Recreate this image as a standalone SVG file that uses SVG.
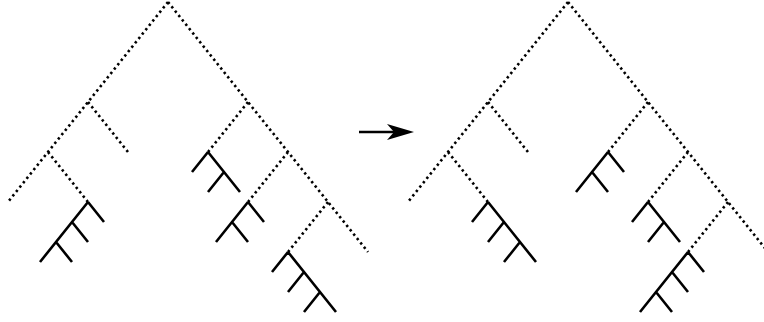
<svg xmlns="http://www.w3.org/2000/svg" width="764" height="322" viewBox="0 0 764 322">
<style>
.dot{fill:none;stroke:#000;stroke-width:2.6;stroke-dasharray:2.4 3.2}
.sol{fill:none;stroke:#000;stroke-width:2.6;stroke-linecap:butt;stroke-linejoin:miter}
</style>
<rect width="764" height="322" fill="#fff"/>
<g id="connectors">
  <path class="dot" d="M168,2 L8,202 M88,102 L128,152 M48,152 L88,202 M168,2 L368,252 M248,102 L208,152 M288,152 L248,202 M328,202 L288,252"/>
  <path class="dot" d="M568,2 L408,202 M488,102 L528,152 M448,152 L488,202 M568,2 L768,252 M648,102 L608,152 M688,152 L648,202 M728,202 L688,252"/>
  <g id="arrow">
    <line x1="359" y1="132" x2="396" y2="132" stroke="#000" stroke-width="2.6"/>
    <polygon points="414,132 387,124 394,132 387,140" fill="#000"/>
  </g>
</g>
<g id="left-sub-a"><path class="sol" d="M88,202 L40,262 M88,202 L104,222 M72,222 L88,242 M56,242 L72,262"/></g>
<g id="left-sub-b"><path class="sol" d="M208,152 L240,192 M208,152 L192,172 M224,172 L208,192"/></g>
<g id="left-sub-c"><path class="sol" d="M248,202 L216,242 M248,202 L264,222 M232,222 L248,242"/></g>
<g id="left-sub-d"><path class="sol" d="M288,252 L336,312 M288,252 L272,272 M304,272 L288,292 M320,292 L304,312"/></g>
<g id="right-sub-a"><path class="sol" d="M488,202 L536,262 M488,202 L472,222 M504,222 L488,242 M520,242 L504,262"/></g>
<g id="right-sub-b"><path class="sol" d="M608,152 L576,192 M608,152 L624,172 M592,172 L608,192"/></g>
<g id="right-sub-c"><path class="sol" d="M648,202 L680,242 M648,202 L632,222 M664,222 L648,242"/></g>
<g id="right-sub-d"><path class="sol" d="M688,252 L640,312 M688,252 L704,272 M672,272 L688,292 M656,292 L672,312"/></g>
</svg>
